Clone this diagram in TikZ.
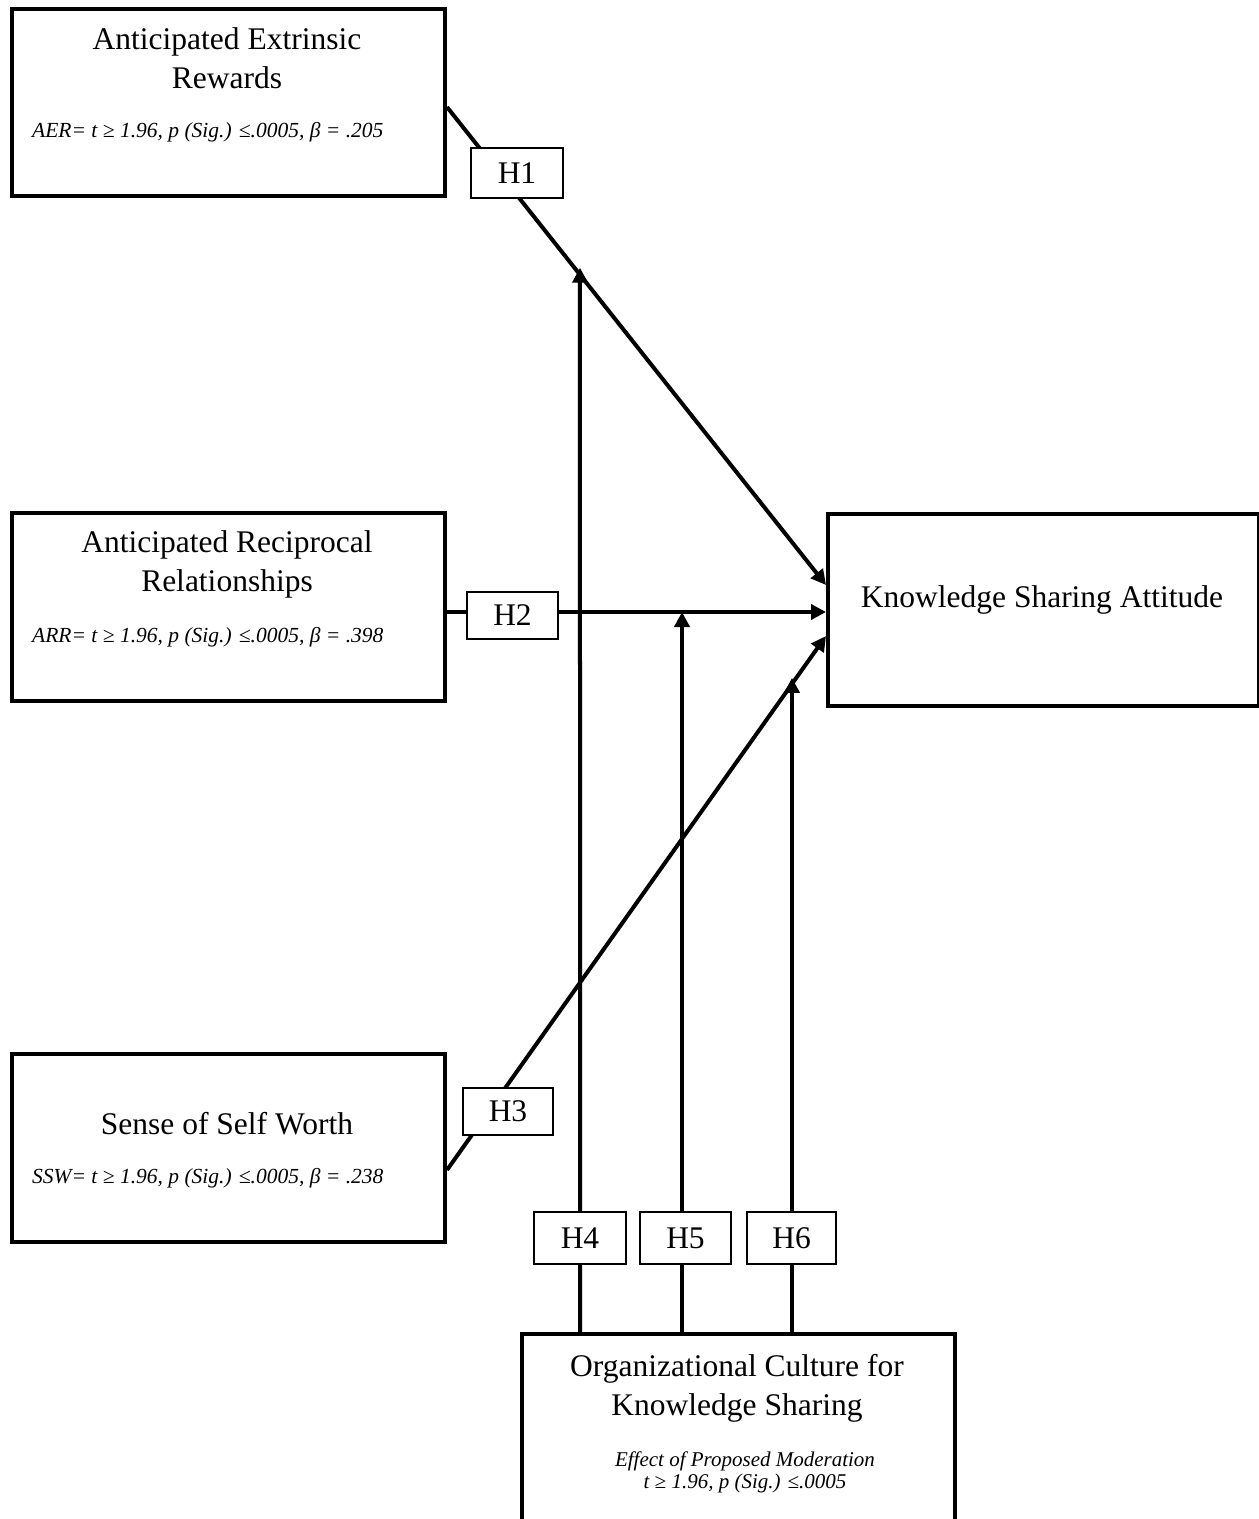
\documentclass[tikz,border=0pt]{standalone}
\usepackage{fontspec}
\setmainfont{Liberation Serif}
\usetikzlibrary{arrows.meta}
\begin{document}
\begin{tikzpicture}[x=1pt,y=-1pt,
 bigbox/.style={draw,line width=4pt,inner sep=0pt,anchor=north west},
 hbox/.style={draw,fill=white,line width=2pt,inner sep=0pt,anchor=north west,font=\fontsize{31.5}{38}\selectfont},
 title/.style={align=center,font=\fontsize{31.5}{39}\selectfont,inner sep=0pt},
 stat/.style={font=\fontsize{21.5}{21}\selectfont\itshape,inner sep=0pt,anchor=west},
 link/.style={line width=4pt,-{Triangle[length=15pt,width=15pt]}}]
\useasboundingbox (0,0) rectangle (1259,1519);
% main boxes
\node[bigbox,minimum width=433pt,minimum height=187pt] (aer) at (10,7) {};
\node[bigbox,minimum width=433pt,minimum height=188pt] (arr) at (10,511) {};
\node[bigbox,minimum width=433pt,minimum height=188pt] (ssw) at (10,1052) {};
\node[bigbox,minimum width=431pt,minimum height=192pt] (ksa) at (826,512) {};
\node[bigbox,minimum width=433pt,minimum height=230pt] (oc) at (520,1332) {};
% texts
\node[title] (aert) at (227,58) {Anticipated Extrinsic\\Rewards};
\node[stat] (aers) at (32,132) {AER= t ≥ 1.96, p (Sig.) ≤.0005, β = .205};
\node[title] (arrt) at (227,564) {Anticipated Reciprocal\\Relationships};
\node[stat] (arrs) at (32,637) {ARR= t ≥ 1.96, p (Sig.) ≤.0005, β = .398};
\node[title] (sswt) at (227,1124) {Sense of Self Worth};
\node[stat] (ssws) at (32,1178) {SSW= t ≥ 1.96, p (Sig.) ≤.0005, β = .238};
\node[title] (ksat) at (1042,600) {Knowledge Sharing Attitude};
\node[title] (oct) at (737,1388) {Organizational Culture for\\Knowledge Sharing};
\node[stat,anchor=center,align=center,font=\fontsize{21}{22}\selectfont\itshape] (ocs) at (745,1472) {Effect of Proposed Moderation\\t ≥ 1.96, p (Sig.) ≤.0005};
% connector end points
\coordinate (a1) at (aer.east |- 0,107);
\coordinate (k1) at (ksa.west |- 0,585);
\coordinate (a2) at (arr.east |- 0,612);
\coordinate (k2) at (ksa.west |- 0,612);
\coordinate (a3) at (ssw.east |- 0,1170);
\coordinate (k3) at (ksa.west |- 0,636);
\coordinate (v4) at (580,0);
\coordinate (v5) at (682,0);
\coordinate (v6) at (792,0);
\coordinate (t4) at (intersection of a1--k1 and v4--oc.north -| v4);
\coordinate (t5) at (intersection of a2--k2 and v5--oc.north -| v5);
\coordinate (t6) at (intersection of a3--k3 and v6--oc.north -| v6);
% connectors
\draw[link] (a1) -- (k1);
\draw[link] (a2) -- (k2);
\draw[link] (a3) -- (k3);
\draw[link,shorten >=-7pt] (oc.north -| v4) -- (t4);
\draw[link] (oc.north -| v5) -- (t5);
\draw[link,shorten >=-6pt] (oc.north -| v6) -- (t6);
% hypothesis labels
\node[hbox,minimum width=92pt,minimum height=50pt] (h1) at (470,147) {H1};
\node[hbox,minimum width=91pt,minimum height=47pt] (h2) at (466,591) {H2};
\node[hbox,minimum width=90pt,minimum height=47pt] (h3) at (462,1087) {H3};
\node[hbox,minimum width=92pt,minimum height=52pt] (h4) at (533,1211) {H4};
\node[hbox,minimum width=91pt,minimum height=52pt] (h5) at (639,1211) {H5};
\node[hbox,minimum width=89pt,minimum height=52pt] (h6) at (746,1211) {H6};
\end{tikzpicture}
\end{document}
